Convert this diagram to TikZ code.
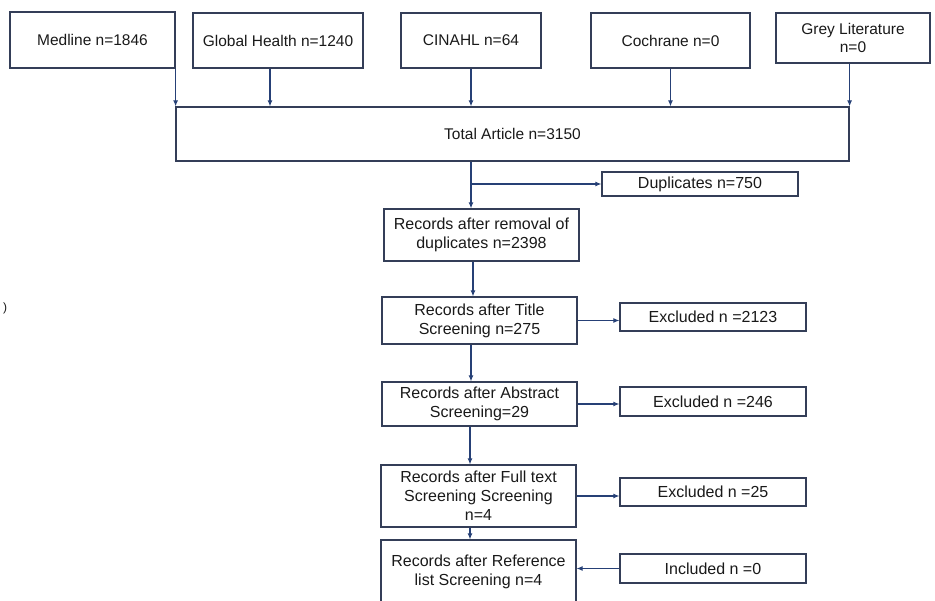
\documentclass[tikz,border=0pt]{standalone}
\usepackage{fontspec}
\setmainfont{Liberation Sans}
\definecolor{boxline}{RGB}{52, 62, 88}
\definecolor{flow}{RGB}{38, 64, 118}
\definecolor{ink}{RGB}{25, 25, 25}
\usetikzlibrary{shapes, arrows.meta, positioning}

\begin{document}
\begin{tikzpicture}[x=1pt,y=-1pt,
		srcbox/.style={rectangle,draw=boxline,line width=1.2pt,text=ink,align=center,
			inner sep=2pt,font=\fontsize{15.5}{18}\selectfont},
		stagebox/.style={rectangle,draw=boxline,line width=1.2pt,text=ink,align=center,
			minimum width=195pt,inner sep=2pt,font=\fontsize{16}{19}\selectfont},
		sidebox/.style={rectangle,draw=boxline,line width=1.2pt,text=ink,align=center,
			minimum width=186pt,inner sep=2pt,font=\fontsize{16}{19}\selectfont},
		arr/.style={draw=flow,line width=1.1pt,-{Latex[length=6pt,width=5pt]}}]
	\useasboundingbox (0,0) rectangle (935,601);
	% databases
	\node[srcbox,minimum width=165pt,minimum height=56pt] (medline) at (92.5,40) {Medline n=1846};
	\node[srcbox,minimum width=170pt,minimum height=55pt] (globalhealth) at (278,40.5) {Global Health n=1240};
	\node[srcbox,minimum width=140pt,minimum height=55pt] (cinahl) at (471,40.5) {CINAHL n=64};
	\node[srcbox,minimum width=159pt,minimum height=55pt] (cochrane) at (670.5,40.5) {Cochrane n=0};
	\node[srcbox,minimum width=154pt,minimum height=50pt] (grey) at (853,38) {Grey Literature\\n=0};
	\node[srcbox,minimum width=673pt,minimum height=54pt] (total) at (512.5,134) {Total Article n=3150};
	\coordinate (spine) at (471,0);
	% screening stages
	\node[stagebox,minimum height=52pt] (removal) at (481.5,235) {Records after removal of\\duplicates n=2398};
	\node[stagebox,minimum height=47pt] (title) at (479.5,320.5) {Records after Title\\Screening n=275};
	\node[stagebox,minimum height=44pt] (abstract) at (479.5,404) {Records after Abstract\\Screening=29};
	\node[stagebox,minimum height=62pt] (fulltext) at (478.5,496) {Records after Full text\\Screening Screening\\n=4};
	\node[stagebox,minimum height=63pt] (reflist) at (478.5,571.5) {Records after Reference\\list Screening n=4};
	% side boxes
	\node[sidebox,minimum width=196pt,minimum height=24pt] (duplicates) at (700,184) {Duplicates n=750};
	\node[sidebox,minimum height=28pt] (excltitle) at (713,317) {Excluded n =2123};
	\node[sidebox,minimum height=29pt] (exclabstract) at (713,401.5) {Excluded n =246};
	\node[sidebox,minimum height=28pt] (exclfull) at (713,492) {Excluded n =25};
	\node[sidebox,minimum height=29pt] (included) at (713,568.5) {Included n =0};
	\node[text=ink,font=\fontsize{12}{14}\selectfont] (stray) at (5,308) {)};
	% arrows
	\draw[arr] (medline.south east) -- (medline.south east |- total.north);
	\draw[arr] ([xshift=-8pt]globalhealth.south) -- ([xshift=-8pt]globalhealth.south |- total.north);
	\draw[arr] (cinahl.south) -- (cinahl.south |- total.north);
	\draw[arr] (cochrane.south) -- (cochrane.south |- total.north);
	\draw[arr] (grey.south -| total.north east) -- (total.north east);
	\draw[arr] (spine |- total.south) -- (spine |- removal.north);
	\draw[arr] (spine |- duplicates.west) -- (duplicates.west);
	\draw[arr] ([xshift=2pt]spine |- removal.south) -- ([xshift=2pt]spine |- title.north);
	\draw[arr] (spine |- title.south) -- (spine |- abstract.north);
	\draw[arr] ([xshift=-1pt]spine |- abstract.south) -- ([xshift=-1pt]spine |- fulltext.north);
	\draw[arr] ([xshift=-1pt]spine |- fulltext.south) -- ([xshift=-1pt]spine |- reflist.north);
	\draw[arr] (title.east) -- (title.east -| excltitle.west);
	\draw[arr] (abstract.east) -- (abstract.east -| exclabstract.west);
	\draw[arr] (fulltext.east) -- (fulltext.east -| exclfull.west);
	\draw[arr] (included.west) -- (included.west -| reflist.east);
\end{tikzpicture}
\end{document}
